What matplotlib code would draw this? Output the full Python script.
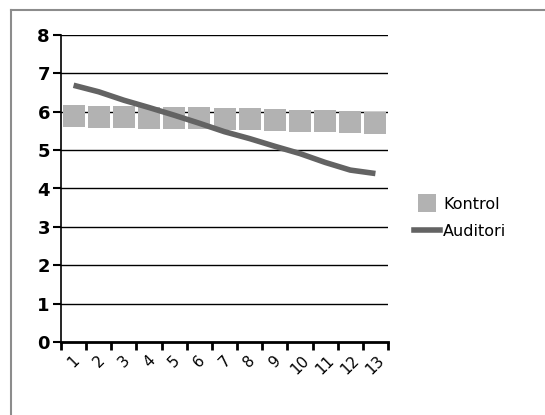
import matplotlib
matplotlib.use("Agg")
import matplotlib.pyplot as plt
from matplotlib.lines import Line2D

categories = [str(i) for i in range(1, 14)]
kontrol = [5.88, 5.87, 5.86, 5.85, 5.84, 5.83, 5.82, 5.80, 5.79, 5.76, 5.75, 5.73, 5.70]
auditori = [6.69, 6.52, 6.30, 6.11, 5.91, 5.70, 5.48, 5.30, 5.10, 4.91, 4.68, 4.48, 4.39]
yticks = [0, 1, 2, 3, 4, 5, 6, 7, 8]

W, H = 545, 415
fig = plt.figure(figsize=(W / 100, H / 100), dpi=100)
fig.patch.set_facecolor("white")

left, right, top, bottom = 61, 388, 35, 342
ax = fig.add_axes([left / W, 1 - bottom / H, (right - left) / W, (bottom - top) / H])

x = list(range(len(categories)))
ax.plot(x, kontrol, linestyle="none", marker="s", markersize=16.5, color="#b2b2b2",
        markeredgewidth=0, label="Kontrol", zorder=3)
ax.plot(x, auditori, color="#636363", linewidth=4, label="Auditori", zorder=4,
        solid_capstyle="butt")

ax.set_xlim(-0.5, len(categories) - 0.5)
ax.set_ylim(0, 8)
ax.set_yticks(yticks)
ax.set_yticklabels([str(v) for v in yticks], fontsize=13, fontweight="bold")
ax.set_xticks(x)
ax.set_xticklabels(categories, rotation=45, fontsize=11, ha="center", va="top")
ax.set_xticks([i - 0.5 for i in range(len(categories) + 1)], minor=True)
ax.tick_params(axis="x", which="major", length=0, pad=8)
ax.tick_params(axis="x", which="minor", length=6, width=2, direction="out")
ax.tick_params(axis="y", length=6, width=1.5, direction="out", pad=2)

for v in yticks[1:]:
    ax.axhline(v, color="black", linewidth=1, zorder=1)

for s in ["top", "right"]:
    ax.spines[s].set_visible(False)
ax.spines["left"].set_linewidth(1.2)
ax.spines["bottom"].set_linewidth(2)

handles = [
    Line2D([], [], linestyle="none", marker="s", markersize=13, color="#b2b2b2", markeredgewidth=0),
    Line2D([], [], color="#636363", linewidth=4),
]
fig.legend(handles, ["Kontrol", "Auditori"], loc="center left",
           bbox_to_anchor=(400 / W, 1 - 218 / H), frameon=False, fontsize=11.5,
           handlelength=1.6, handletextpad=0.2, labelspacing=0.75)

# outer border
fig.add_artist(Line2D([10.5 / W, 10.5 / W], [0, 1 - 10.5 / H], transform=fig.transFigure,
                      color="#8c8c8c", linewidth=1.5))
fig.add_artist(Line2D([10.5 / W, 1], [1 - 10.5 / H, 1 - 10.5 / H], transform=fig.transFigure,
                      color="#8c8c8c", linewidth=1.5))

fig.savefig("out.png", dpi=100)
